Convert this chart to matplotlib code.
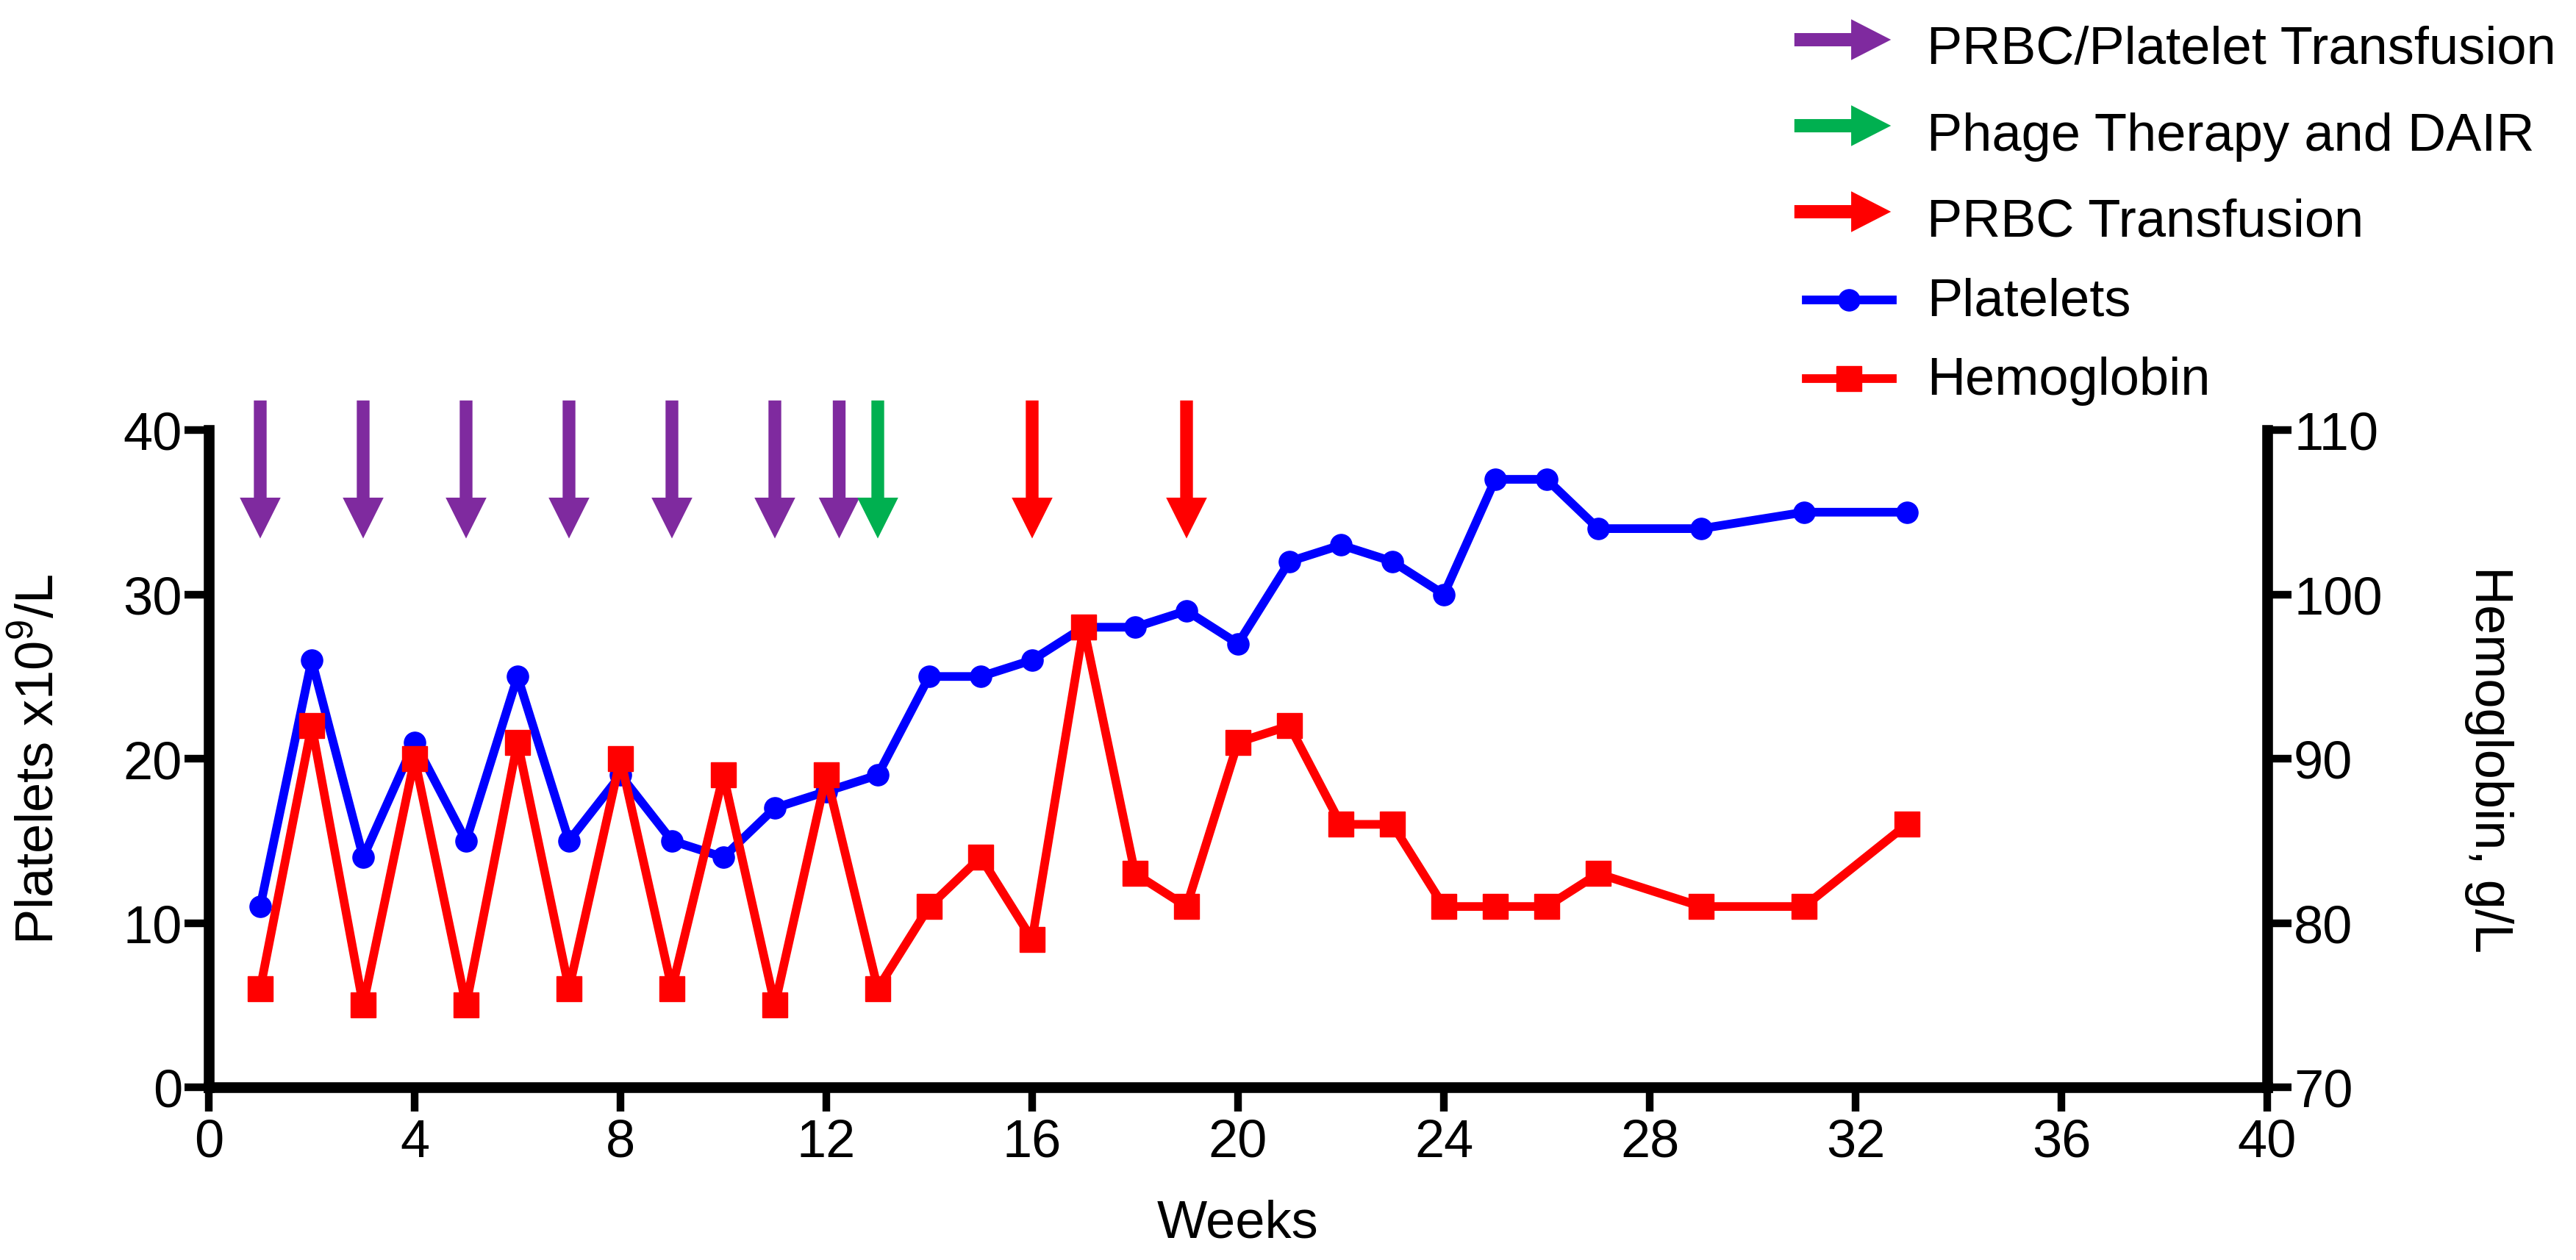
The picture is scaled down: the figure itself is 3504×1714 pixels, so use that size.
import matplotlib
matplotlib.use("Agg")
import matplotlib.pyplot as plt
from matplotlib.lines import Line2D
from matplotlib.patches import FancyArrowPatch, ArrowStyle

plt.rcParams['font.family'] = ['Liberation Sans', 'DejaVu Sans']
plt.rcParams['mathtext.fontset'] = 'custom'
plt.rcParams['mathtext.rm'] = 'Liberation Sans'

# data
weeks = [1, 2, 3, 4, 5, 6, 7, 8, 9, 10, 11, 12, 13, 14, 15, 16, 17, 18, 19, 20,
         21, 22, 23, 24, 25, 26, 27, 29, 31, 33]
platelets = [11, 26, 14, 21, 15, 25, 15, 19, 15, 14, 17, 18, 19, 25, 25, 26, 28, 28, 29, 27,
             32, 33, 32, 30, 37, 37, 34, 34, 35, 35]
hemoglobin = [76, 92, 75, 90, 75, 91, 76, 90, 76, 89, 75, 89, 76, 81, 84, 79, 98, 83, 81, 91,
              92, 86, 86, 81, 81, 81, 83, 81, 81, 86]

transfusion_weeks = [1, 3, 5, 7, 9, 11, 12.25]   # PRBC/Platelet
phage_weeks = [13]
prbc_weeks = [16, 19]

PURPLE = "#7F2A9F"
GREEN = "#00B050"
RED = "#FF0000"
BLUE = "#0000FF"
FS = 52
LW = 8.5

W, H = 3504, 1715
fig = plt.figure(figsize=(W / 100, H / 100), dpi=100)
ax = fig.add_axes([284 / W, 1 - 1480 / H, 2800 / W, 894 / H])
ax2 = ax.twinx()

ax.plot(weeks, platelets, color=BLUE, lw=LW, marker='o', markersize=21, zorder=3)
ax2.plot(weeks, hemoglobin, color=RED, lw=LW, marker='s', markersize=24, zorder=3)

ax.set_xlim(0, 40)
ax.set_ylim(0, 40)
ax2.set_ylim(70, 110)
ax.set_xticks(range(0, 41, 4))
ax.set_yticks(range(0, 41, 10))
ax2.set_yticks(range(70, 111, 10))

for s in ['top', 'right']:
    ax.spines[s].set_visible(False)
for s in ['top', 'left', 'bottom']:
    ax2.spines[s].set_visible(False)
for a in (ax, ax2):
    for sp in a.spines.values():
        sp.set_linewidth(10.5)
ax.tick_params(axis='both', length=24, width=7.5, labelsize=FS)
ax.tick_params(axis='x', pad=6)
ax.tick_params(axis='y', pad=2)
ax2.tick_params(axis='y', length=24, width=7.5, labelsize=FS, pad=2)

ax.set_xlabel("Weeks", fontsize=FS, va='center')
ax.xaxis.set_label_coords(0.5, -0.207)
ax.set_ylabel(r"Platelets x10$^{\mathregular{9}}$/L", fontsize=FS, va='center')
ax.yaxis.set_label_coords(-0.0825, 0.5)
ax2.set_ylabel("Hemoglobin, g/L", fontsize=FS, rotation=270, va='center')
ax2.yaxis.set_label_coords(1.1075, 0.5)

# treatment arrows above the curves
arrow_style = ArrowStyle.Simple(head_length=40, head_width=40, tail_width=12.5)
for wks, col in [(transfusion_weeks, PURPLE), (phage_weeks, GREEN), (prbc_weeks, RED)]:
    for w in wks:
        ax2.annotate("", xy=(w, 33.4), xytext=(w, 41.8), xycoords=ax.transData,
                     textcoords=ax.transData, annotation_clip=False,
                     arrowprops=dict(arrowstyle=arrow_style, mutation_scale=1, color=col,
                                     lw=0, shrinkA=0, shrinkB=0, clip_on=False))

# legend drawn by hand
def fx(px):
    return px / W

def fy(py):
    return 1 - py / H

legend_arrows = [(PURPLE, 55, 87, "PRBC/Platelet Transfusion"),
                 (GREEN, 172, 205, "Phage Therapy and DAIR"),
                 (RED, 289, 321, "PRBC Transfusion")]
for col, yc, yb, txt in legend_arrows:
    fig.add_artist(FancyArrowPatch((fx(2438), fy(yc)), (fx(2575), fy(yc)),
                                   transform=fig.transFigure,
                                   arrowstyle=ArrowStyle.Simple(head_length=39, head_width=40,
                                                                tail_width=13),
                                   mutation_scale=1, color=col, lw=0))
    fig.text(fx(2621), fy(yb), txt, fontsize=FS, va='baseline', ha='left')

legend_lines = [(BLUE, 'o', 21, 409, 429, "Platelets"),
                (RED, 's', 24, 516, 537, "Hemoglobin")]
for col, mk, ms, yc, yb, txt in legend_lines:
    fig.add_artist(Line2D([fx(2457), fx(2574)], [fy(yc), fy(yc)], transform=fig.transFigure,
                          color=col, lw=LW))
    fig.add_artist(Line2D([fx(2515)], [fy(yc)], transform=fig.transFigure,
                          color=col, marker=mk, markersize=ms))
    fig.text(fx(2621), fy(yb), txt, fontsize=FS, va='baseline', ha='left')

fig.savefig("out.png", dpi=100)
